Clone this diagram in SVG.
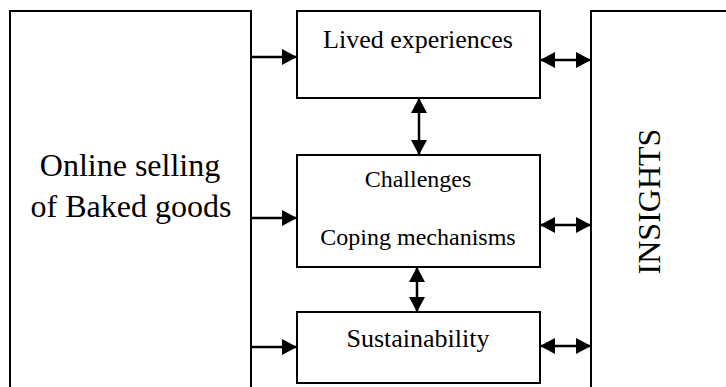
<svg xmlns="http://www.w3.org/2000/svg" width="726" height="387" viewBox="0 0 726 387">
<style>
.box{fill:#fff;stroke:#000;stroke-width:2}
.t{font-family:"Liberation Serif","Times New Roman",serif;fill:#000;text-anchor:middle}
.c{stroke:#000;stroke-width:2.5;fill:none}
</style>
<defs>
<marker id="ah" markerUnits="userSpaceOnUse" markerWidth="15" markerHeight="16" refX="15" refY="8" orient="auto-start-reverse" viewBox="0 0 15 16">
<path d="M0,0 L15,8 L0,16 z" fill="#000"/>
</marker>
</defs>
<rect width="726" height="387" fill="#fff"/>
<g id="online">
<rect class="box" x="10" y="11" width="241" height="400"/>
<text class="t" x="130" y="176" font-size="32">Online selling</text>
<text class="t" x="131" y="217" font-size="32">of Baked goods</text>
</g>
<g id="lived">
<rect class="box" x="297" y="11" width="243" height="87"/>
<text class="t" x="418" y="48" font-size="26">Lived experiences</text>
</g>
<g id="challenges">
<rect class="box" x="297" y="155" width="243" height="112"/>
<text class="t" x="418" y="187" font-size="24">Challenges</text>
<text class="t" x="418" y="245" font-size="24">Coping mechanisms</text>
</g>
<g id="sustainability">
<rect class="box" x="297" y="312" width="243" height="71"/>
<text class="t" x="418" y="347" font-size="26">Sustainability</text>
</g>
<g id="insights">
<rect class="box" x="591" y="11" width="200" height="400"/>
<text class="t" transform="translate(660,201.5) rotate(-90)" font-size="32">INSIGHTS</text>
</g>
<g id="connectors">
<line class="c" x1="251" y1="57" x2="297" y2="57" marker-end="url(#ah)"/>
<line class="c" x1="251" y1="218" x2="297" y2="218" marker-end="url(#ah)"/>
<line class="c" x1="251" y1="347" x2="297" y2="347" marker-end="url(#ah)"/>
<line class="c" x1="540" y1="60" x2="591" y2="60" marker-start="url(#ah)" marker-end="url(#ah)"/>
<line class="c" x1="540" y1="225" x2="591" y2="225" marker-start="url(#ah)" marker-end="url(#ah)"/>
<line class="c" x1="540" y1="346" x2="591" y2="346" marker-start="url(#ah)" marker-end="url(#ah)"/>
<line class="c" x1="419" y1="98" x2="419" y2="155" marker-start="url(#ah)" marker-end="url(#ah)"/>
<line class="c" x1="417" y1="267" x2="417" y2="312" marker-start="url(#ah)" marker-end="url(#ah)"/>
</g>
</svg>
